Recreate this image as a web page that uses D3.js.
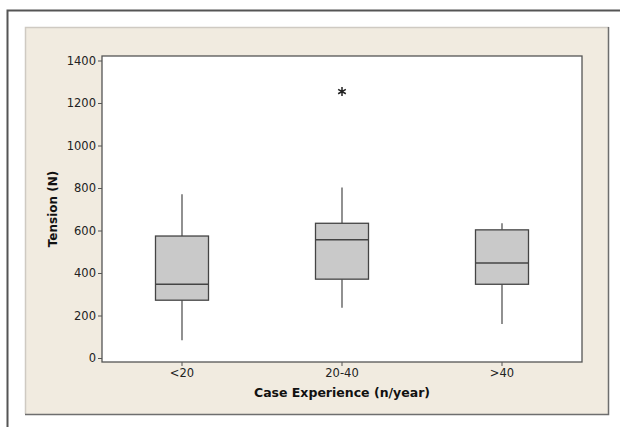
<!DOCTYPE html>
<html><head><meta charset="utf-8">
<script src="https://cdn.jsdelivr.net/npm/d3@7"></script>
<style>body{margin:0;background:#fff}svg{display:block}</style>
</head><body>
<script>
const categories = ["<20", "20-40", ">40"];
const whiskerLow  = [83, 237, 160];
const q1          = [272, 371, 347];
const median      = [347, 557, 447];
const q3          = [574, 634, 603];
const whiskerHigh = [771, 802, 634];
const outliers    = [[], [1254], []];
const yTicks = [0, 200, 400, 600, 800, 1000, 1200, 1400];

(function(){
const W = 620, H = 427;
const svg = d3.select("body").append("svg").attr("width", W).attr("height", H);

// outer frame
svg.append("path").attr("d", `M7.5,${H}V10.5H${W}`).attr("fill","none").attr("stroke","#555").attr("stroke-width",2);

// beige panel with shadow edges
svg.append("rect").attr("x",25).attr("y",27).attr("width",584).attr("height",387).attr("fill","#f1ebe0");
svg.append("path").attr("d","M25.5,414V27.5H609").attr("fill","none").attr("stroke","#cfcac2").attr("stroke-width",1.5);
svg.append("path").attr("d","M608.5,27V414.5H25").attr("fill","none").attr("stroke","#6e6e6e").attr("stroke-width",1.5);

const pL = 102, pR = 582, pT = 56, pB = 362;
const x = d3.scaleBand().domain(categories).range([pL, pR]).padding(0);
const y = d3.scaleLinear().domain([0, 1400]).range([358, 60.5]);

svg.append("rect").attr("x",pL).attr("y",pT).attr("width",pR-pL).attr("height",pB-pT)
  .attr("fill","#fff").attr("stroke","#555").attr("stroke-width",1.3);

const font = "'DejaVu Sans', Verdana, sans-serif";

// y axis
const ya = svg.append("g").attr("transform",`translate(${pL},0)`)
  .call(d3.axisLeft(y).tickValues(yTicks).tickFormat(d3.format("d")).tickSize(4).tickPadding(2).tickSizeOuter(0));
ya.select(".domain").remove();
ya.selectAll("line").attr("stroke","#555");
ya.selectAll("text").attr("font-family",font).attr("font-size",11.5).attr("fill","#222");

// x axis
const xa = svg.append("g").attr("transform",`translate(0,${pB})`)
  .call(d3.axisBottom(x).tickSize(4).tickPadding(3).tickSizeOuter(0));
xa.select(".domain").remove();
xa.selectAll("line").attr("stroke","#555");
xa.selectAll("text").attr("font-family",font).attr("font-size",11.5).attr("fill","#222");

// labels
svg.append("text").attr("transform",`translate(57,${(pT+pB)/2}) rotate(-90)`)
  .attr("text-anchor","middle").attr("font-family",font).attr("font-weight","bold").attr("font-size",12)
  .attr("fill","#111").text("Tension (N)");
svg.append("text").attr("x",(pL+pR)/2).attr("y",397).attr("text-anchor","middle")
  .attr("font-family",font).attr("font-weight","bold").attr("font-size",12.5).attr("fill","#111")
  .text("Case Experience (n/year)");

// boxes
const bw = 53;
categories.forEach((c, i) => {
  const cx = x(c) + x.bandwidth()/2;
  const g = svg.append("g");
  g.append("line").attr("x1",cx).attr("x2",cx).attr("y1",y(whiskerHigh[i])).attr("y2",y(q3[i]))
    .attr("stroke","#555").attr("stroke-width",1.3);
  g.append("line").attr("x1",cx).attr("x2",cx).attr("y1",y(q1[i])).attr("y2",y(whiskerLow[i]))
    .attr("stroke","#555").attr("stroke-width",1.3);
  g.append("rect").attr("x",cx-bw/2).attr("y",y(q3[i])).attr("width",bw).attr("height",y(q1[i])-y(q3[i]))
    .attr("fill","#c9c9c9").attr("stroke","#444").attr("stroke-width",1.3);
  g.append("line").attr("x1",cx-bw/2).attr("x2",cx+bw/2).attr("y1",y(median[i])).attr("y2",y(median[i]))
    .attr("stroke","#444").attr("stroke-width",1.5);
  outliers[i].forEach(v => {
    g.append("path").attr("transform",`translate(${cx},${y(v)})`)
      .attr("d", d3.symbol(d3.symbolAsterisk, 55)())
      .attr("fill","none").attr("stroke","#222").attr("stroke-width",1.5);
  });
});
})();
</script>
</body></html>
